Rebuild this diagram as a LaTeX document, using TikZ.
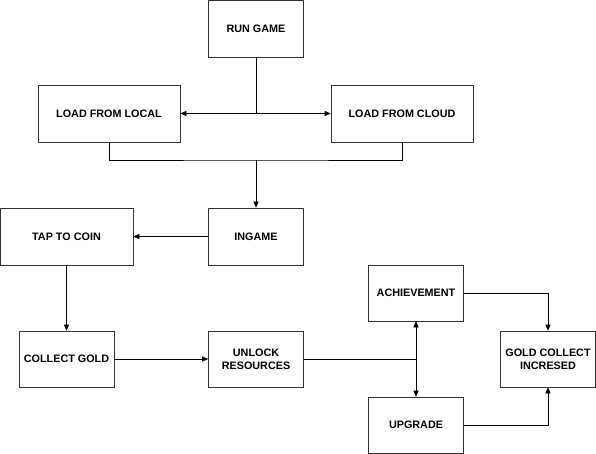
\documentclass[tikz,border=0pt]{standalone}
\usepackage{fontspec}
\setmainfont{Liberation Sans}
\usetikzlibrary{arrows.meta}

\begin{document}
\begin{tikzpicture}[x=1pt,y=-1pt,
        box/.style={draw=black!80,line width=0.6pt,inner sep=0pt,align=center,
            minimum width=95pt,minimum height=57pt,
            font=\fontsize{10.8}{13}\selectfont\bfseries},
        wide/.style={box,minimum width=142pt},
        link/.style={draw=black,line width=0.6pt},
        arrow/.style={link,-{Triangle[length=6pt,width=5pt]}}]
    \useasboundingbox (0,0) rectangle (596,454);
    % top part
    \node[box] (run) at (256,28.5) {RUN GAME};
    \node[wide] (local) at (109,113.5) {LOAD FROM LOCAL};
    \node[wide] (cloud) at (402,113.5) {LOAD FROM CLOUD};
    \node[box] (ingame) at (256,236.5) {INGAME};
    \node[box,minimum width=133pt] (tap) at (66.5,236.5) {TAP TO COIN};
    % bottom part
    \node[box,minimum height=56pt] (collect) at (66.5,359) {COLLECT GOLD};
    \node[box,minimum height=56pt] (unlock) at (256,359) {UNLOCK\\RESOURCES};
    \node[box,minimum height=56pt] (achieve) at (416,293) {ACHIEVEMENT};
    \node[box,minimum height=56pt] (upgrade) at (416,425) {UPGRADE};
    \node[box,minimum height=56pt] (gold) at (548,359) {GOLD COLLECT\\INCRESED};
    \coordinate (split) at (run |- local);
    \coordinate (merge) at (256,160);
    \coordinate (branch) at (achieve |- unlock);
    \draw[link] (run) -- (split);
    \draw[arrow] (split) -- (local);
    \draw[arrow] (split) -- (cloud);
    \draw[link] (local.south) |- (merge) -| (cloud.south);
    \draw[arrow] (merge) -- (ingame);
    \draw[arrow] (ingame) -- (tap);
    \draw[arrow] (tap) -- (collect);
    \draw[arrow] (collect) -- (unlock);
    \draw[link] (unlock) -- (branch);
    \draw[arrow] (branch) -- (achieve);
    \draw[arrow] (branch) -- (upgrade);
    \draw[arrow] (achieve) -| (gold);
    \draw[arrow] (upgrade) -| (gold);
\end{tikzpicture}
\end{document}
